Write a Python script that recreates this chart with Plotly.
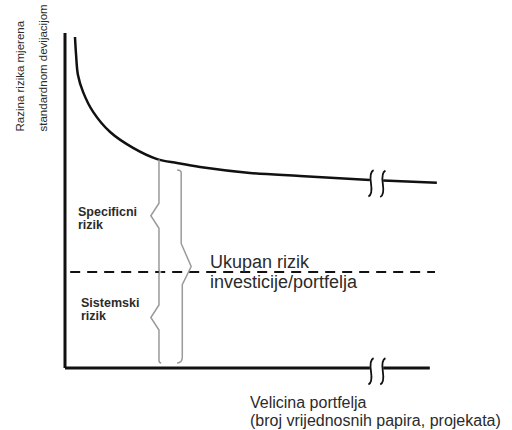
import plotly.graph_objects as go

# ---------------- data (logical units: portfolio size 0-100, risk level 0-100) ----------------
curve_x = [2.7, 3.0, 3.5, 4.9, 7.6, 12.2, 18.4, 24.9, 30.3, 36.5, 50.0, 63.5, 82.4]
curve_y = [100.3, 94.8, 88.8, 83.6, 77.6, 71.5, 66.7, 63.3, 62.1, 60.9, 59.1, 58.2, 57.0]
tail_x = [86.0, 100.5]
tail_y = [56.8, 56.1]
systemic_level = 29.1
dash_x = [1.4, 100.0]
axis_x_end = 98.6
axis_y_end = 101.5
break_x = [82.7, 85.9]
brace_left_x = 25.4
brace_right_x = 31.4
brace_bottom = 1.5
brace_right_top = 60.0

label_specific = ["Specificni", "rizik"]
label_systemic = ["Sistemski", "rizik"]
label_total = ["Ukupan rizik", "investicije/portfelja"]
y_title = ["Razina rizika mjerena", "standardnom devijacijom"]
x_title = ["Velicina portfelja", "(broj vrijednosnih papira, projekata)"]

# ---------------- geometry of the canvas ----------------
W, H = 512, 430
X0, SX = 65.0, 3.7      # px of x=0, px per unit
Y0, SY = 368.0, 3.3     # px of y=0, px per unit
x_range = [-X0 / SX, (W - X0) / SX]
y_range = [(Y0 - H) / SY, Y0 / SY]

FONT = "Liberation Sans, Arial, Helvetica, sans-serif"
INK = "#111111"
TXT = "#2b2b2b"
BRACE = "#9a9a9a"


def interp(x, xs, ys):
    for i in range(len(xs) - 1):
        if xs[i] <= x <= xs[i + 1]:
            t = (x - xs[i]) / (xs[i + 1] - xs[i])
            return ys[i] + t * (ys[i + 1] - ys[i])
    return ys[-1]


def p(x, y):
    return f"{x:.3f},{y:.3f}"


fig = go.Figure()

# axes
fig.add_trace(go.Scatter(x=[0, 0], y=[axis_y_end, 0], mode="lines",
                         line=dict(color=INK, width=3), hoverinfo="skip"))
fig.add_trace(go.Scatter(x=[0, break_x[0] - 0.3], y=[0, 0], mode="lines",
                         line=dict(color=INK, width=3), hoverinfo="skip"))
fig.add_trace(go.Scatter(x=[break_x[1] + 0.1, axis_x_end], y=[0, 0], mode="lines",
                         line=dict(color=INK, width=3), hoverinfo="skip"))

# total risk curve
fig.add_trace(go.Scatter(x=curve_x, y=curve_y, mode="lines",
                         line=dict(color=INK, width=2.5, shape="spline", smoothing=1.0),
                         hoverinfo="skip"))
fig.add_trace(go.Scatter(x=tail_x, y=tail_y, mode="lines",
                         line=dict(color=INK, width=2.5), hoverinfo="skip"))

# systemic risk (dashed)
fig.add_trace(go.Scatter(x=dash_x, y=[systemic_level] * 2, mode="lines",
                         line=dict(color=INK, width=2, dash="10px,7px"), hoverinfo="skip"))

shapes = []

# break marks
def break_mark(xc, yc):
    h, w = 4.0, 0.7
    return (f"M{p(xc + w, yc + h)} Q{p(xc - 0.45, yc + h * 0.85)} {p(xc, yc)} "
            f"Q{p(xc + 0.45, yc - h * 0.85)} {p(xc - w, yc - h)}")

for bx in break_x:
    shapes.append(dict(type="path", xref="x", yref="y",
                       path=break_mark(bx, interp(bx, curve_x + tail_x, curve_y + tail_y) - 1.0),
                       line=dict(color=INK, width=1.8)))
    shapes.append(dict(type="path", xref="x", yref="y",
                       path=break_mark(bx, -1.0), line=dict(color=INK, width=1.8)))

# left braces (specific / systemic)
xl = brace_left_x
top_l = interp(xl, curve_x, curve_y)
d, h = 2.2, 3.8
hx, hk = 0.6, 0.9
mid_u = (top_l + systemic_level) / 2
path_u = (f"M{p(xl, top_l)} L{p(xl, mid_u + h)} L{p(xl - d, mid_u)} L{p(xl, mid_u - h)} "
          f"L{p(xl, systemic_level + hk)} Q{p(xl, systemic_level)} {p(xl + hx, systemic_level)}")
mid_d = (systemic_level + brace_bottom) / 2
path_d = (f"M{p(xl + hx, systemic_level)} Q{p(xl, systemic_level)} {p(xl, systemic_level - hk)} "
          f"L{p(xl, mid_d + h)} L{p(xl - d, mid_d)} L{p(xl, mid_d - h)} "
          f"L{p(xl, brace_bottom + hk)} Q{p(xl, brace_bottom)} {p(xl + hx, brace_bottom)}")
shapes.append(dict(type="path", xref="x", yref="y", path=path_u, line=dict(color=BRACE, width=1.5)))
shapes.append(dict(type="path", xref="x", yref="y", path=path_d, line=dict(color=BRACE, width=1.5)))

# right brace (total)
xr = brace_right_x
mid_r = (brace_right_top + brace_bottom) / 2
dr, h_up, h_dn = 2.7, 7.0, 5.5
hxr, hkr = 1.1, 0.9
path_r = (f"M{p(xr - hxr, brace_right_top)} Q{p(xr, brace_right_top)} {p(xr, brace_right_top - hkr)} "
          f"L{p(xr, mid_r + h_up)} L{p(xr + dr, mid_r)} L{p(xr + 0.3, mid_r - h_dn)} "
          f"L{p(xr + 0.3, brace_bottom + 2 * hkr)} Q{p(xr + 0.3, brace_bottom)} {p(xr - hxr, brace_bottom)}")
shapes.append(dict(type="path", xref="x", yref="y", path=path_r, line=dict(color=BRACE, width=1.5)))

# ---------------- text ----------------
ann = []

def txt(text, px, py, size, bold=False, xanchor="left", yanchor="middle", angle=0, color=TXT):
    ann.append(dict(text=f"<b>{text}</b>" if bold else text,
                    x=px / W, y=1 - py / H, xref="paper", yref="paper",
                    xanchor=xanchor, yanchor=yanchor, showarrow=False, textangle=angle,
                    borderpad=0,
                    font=dict(family=FONT, size=size, color=color)))

txt(label_specific[0], 77, 212, 12.5, bold=True)
txt(label_specific[1], 77, 225, 12.5, bold=True)
txt(label_systemic[0], 80, 303, 12.5, bold=True)
txt(label_systemic[1], 80, 316, 12.5, bold=True)
txt(label_total[0], 209, 262, 18)
txt(label_total[1], 209, 282, 18)
txt(y_title[0], 19, 133, 11.5, xanchor="center", yanchor="bottom", angle=-90)
txt(y_title[1], 42, 133, 11.5, xanchor="center", yanchor="bottom", angle=-90)
txt(x_title[0], 249, 402, 16)
txt(x_title[1], 249, 420, 16)

fig.update_layout(
    width=W, height=H,
    margin=dict(l=0, r=0, t=0, b=0),
    paper_bgcolor="white", plot_bgcolor="white",
    showlegend=False,
    xaxis=dict(range=x_range, visible=False, fixedrange=True),
    yaxis=dict(range=y_range, visible=False, fixedrange=True),
    shapes=shapes, annotations=ann,
)

fig.write_html("out.html", config={"displayModeBar": False},
               post_script="document.body.style.margin='0';document.body.style.overflow='hidden';")
